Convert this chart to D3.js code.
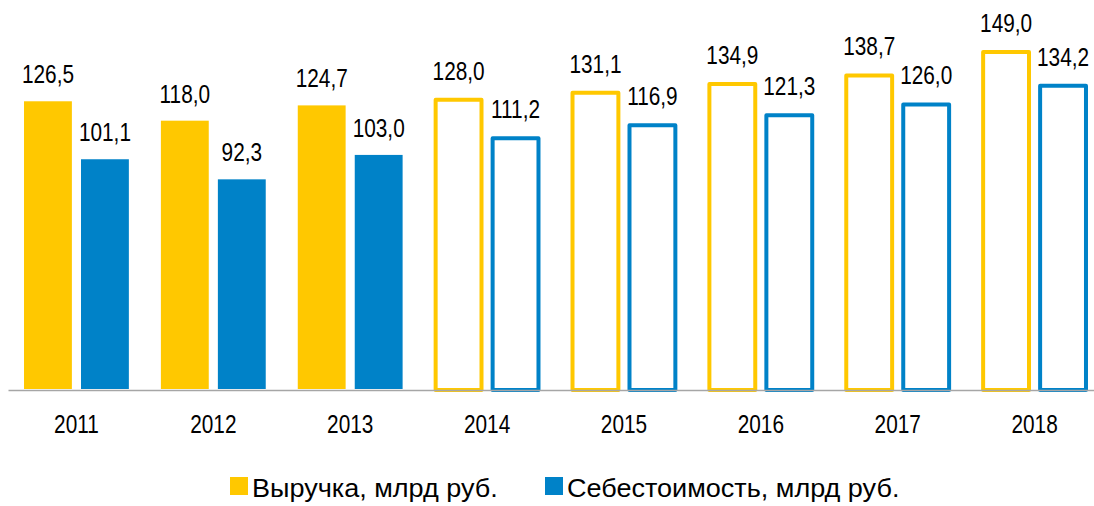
<!DOCTYPE html>
<html>
<head>
<meta charset="utf-8">
<script src="https://cdn.jsdelivr.net/npm/d3@7"></script>
<style>
  body { margin: 0; background: #fff; }
  text { font-family: "Liberation Sans", Arial, sans-serif; fill: #000; }
</style>
</head>
<body>
<svg id="chart" width="1094" height="506"></svg>
<script>
// data
const years = ['2011', '2012', '2013', '2014', '2015', '2016', '2017', '2018'];
const revenue = [126.5, 118.0, 124.7, 128.0, 131.1, 134.9, 138.7, 149.0];
const cost = [101.1, 92.3, 103.0, 111.2, 116.9, 121.3, 126.0, 134.2];
const forecastYears = ['2014', '2015', '2016', '2017', '2018']; // drawn as outlines
const seriesNames = ['Выручка, млрд руб.', 'Себестоимость, млрд руб.'];
const seriesColors = ['#FFC800', '#0082C8'];

const svg = d3.select('#chart');
const baseY = 390;
const narrow = 0.8; // squeeze to look like a narrow font

const x = d3.scaleBand().domain(years).range([8, 1103]).paddingInner(0.234).paddingOuter(0.117);
const sub = d3.scaleBand().domain([0, 1]).range([0, x.bandwidth()]).paddingInner(0.16).paddingOuter(0);
const y = d3.scaleLinear().domain([0, 170]).range([baseY, 2]);

const fmt = v => d3.format('.1f')(v).replace('.', ',');

const rows = [];
years.forEach((yr, i) => {
  [revenue[i], cost[i]].forEach((v, s) => {
    rows.push({ year: yr, s: s, v: v, forecast: forecastYears.includes(yr) });
  });
});

const g = svg.append('g');

// actual years: filled bars
g.selectAll('rect.fill')
  .data(rows.filter(d => !d.forecast)).enter()
  .append('rect')
  .attr('class', 'fill')
  .attr('x', d => x(d.year) + sub(d.s))
  .attr('y', d => y(d.v))
  .attr('width', sub.bandwidth())
  .attr('height', d => baseY - 1 - y(d.v))
  .attr('fill', d => seriesColors[d.s]);

// forecast years: outlined bars
const sw = 4;
g.selectAll('rect.outline')
  .data(rows.filter(d => d.forecast)).enter()
  .append('rect')
  .attr('class', 'outline')
  .attr('x', d => x(d.year) + sub(d.s) + 1)
  .attr('y', d => y(d.v) + sw / 2)
  .attr('width', sub.bandwidth() - 2)
  .attr('height', d => baseY - (y(d.v) + sw / 2))
  .attr('fill', 'none')
  .attr('stroke', d => seriesColors[d.s])
  .attr('stroke-width', sw)
  .attr('stroke-linejoin', 'round');

// value labels
g.selectAll('text.val')
  .data(rows).enter()
  .append('text')
  .attr('class', 'val')
  .attr('transform', d => `translate(${x(d.year) + sub(d.s) + sub.bandwidth() / 2},${y(d.v) - 18}) scale(${narrow},1)`)
  .attr('text-anchor', 'middle')
  .style('font-size', '26px')
  .text(d => fmt(d.v));

// x axis
const ax = svg.append('g')
  .attr('transform', `translate(0,${baseY})`)
  .call(d3.axisBottom(x).tickSize(0).tickPadding(0));
ax.select('.domain').attr('stroke', '#a6a6a6').attr('stroke-width', 1.5);
ax.selectAll('.tick text')
  .attr('y', null).attr('dy', null)
  .attr('transform', `translate(0,42.5) scale(${narrow},1)`)
  .style('font-size', '26px')
  .style('font-family', '"Liberation Sans", Arial, sans-serif')
  .attr('fill', '#000');

// legend
const legendX = [230, 545];
const leg = svg.selectAll('g.leg')
  .data(seriesNames).enter()
  .append('g')
  .attr('class', 'leg')
  .attr('transform', (d, i) => `translate(${legendX[i]},477)`);
leg.append('rect')
  .attr('width', 18).attr('height', 18)
  .attr('fill', (d, i) => seriesColors[i]);
leg.append('text')
  .attr('transform', 'translate(22,19.5) scale(1.04,1)')
  .style('font-size', '26px')
  .text(d => d);
</script>
</body>
</html>
